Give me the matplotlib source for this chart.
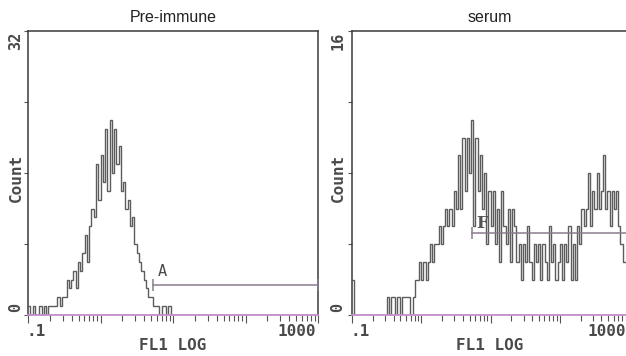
""" Flow cytometry FL1 histograms: pre-immune vs immune serum """

import matplotlib.pyplot as plt
import numpy as np

SAVE_PATH = 'out.png'
W, H = 626, 356

MONO = 'DejaVu Sans Mono'
TEXT_GREY = '#4a4a4a'
HIST_GREY = '#5c5c5c'
BASE_PINK = '#c48ccc'
GATE_COLOR = '#8c7c90'

X_RANGE = [0.1, 1000]
X_TICK_LABELS = ['.1', '1000']
X_LABEL = 'FL1 LOG'
Y_LABEL = 'Count'

PANEL_TITLES = ['Pre-immune', 'serum']
Y_MAX = [32, 16]
Y_TICKS = [[0, 8, 16, 24, 32], [0, 4, 8, 12, 16]]
Y_TICK_LABELS = [['0', '32'], ['0', '16']]

GATE_LABELS = ['A', 'F']
GATE_START = [5.3, 5.4]
GATE_LEVEL = [3.4, 4.6]

# counts per channel (128 log channels, 0.1 .. 1000)
pre_immune_counts = [
    1, 0, 1, 0, 0, 1, 0, 1, 0, 1, 1, 1, 1, 2, 1, 2,
    2, 4, 3, 4, 5, 3, 6, 5, 7, 9, 6, 10, 12, 11, 17, 13,
    18, 15, 21, 14, 22, 16, 21, 17, 19, 14, 15, 12, 13, 10, 11, 8,
    7, 6, 5, 4, 3, 2, 2, 1, 1, 1, 0, 1, 1, 0, 1, 0,
    0, 0, 0, 0, 0, 0, 0, 0, 0, 0, 0, 0, 0, 0, 0, 0,
    0, 0, 0, 0, 0, 0, 0, 0, 0, 0, 0, 0, 0, 0, 0, 0,
    0, 0, 0, 0, 0, 0, 0, 0, 0, 0, 0, 0, 0, 0, 0, 0,
    0, 0, 0, 0, 0, 0, 0, 0, 0, 0, 0, 0, 0, 0, 0, 0,
]

serum_counts = [
    2, 0, 0, 0, 0, 0, 0, 0, 0, 0, 0, 0, 0, 0, 0, 0,
    1, 0, 1, 1, 0, 1, 0, 1, 1, 1, 1, 0, 1, 2, 2, 3,
    2, 3, 2, 3, 4, 3, 4, 4, 5, 4, 5, 6, 5, 6, 5, 7,
    6, 9, 6, 10, 7, 10, 8, 11, 5, 10, 7, 9, 6, 8, 4, 7,
    5, 7, 4, 6, 3, 7, 5, 4, 6, 3, 6, 5, 3, 4, 2, 4,
    3, 5, 3, 2, 4, 3, 4, 2, 4, 3, 2, 5, 3, 4, 2, 3,
    4, 2, 4, 3, 5, 2, 4, 2, 5, 4, 6, 5, 6, 8, 5, 7,
    6, 8, 6, 7, 9, 6, 7, 5, 7, 6, 7, 5, 4, 3, 3, 3,
]

# panel placement in pixels: left, top, width, height
PANELS = [(28, 31, 290, 284), (352, 31, 277, 284)]


def fig_xy(x, y):
    return x / W, 1 - y / H


def make_panel(fig, box, counts, idx):
    left, top, width, height = box
    ax = fig.add_axes([left / W, 1 - (top + height) / H, width / W, height / H])

    edges = np.logspace(np.log10(X_RANGE[0]), np.log10(X_RANGE[1]), len(counts) + 1)
    ax.stairs(counts, edges, color=HIST_GREY, lw=1.0, baseline=None)

    ax.set_xscale('log')
    ax.set_xlim(X_RANGE)
    ax.set_ylim(0, Y_MAX[idx])
    ax.set_yticks(Y_TICKS[idx])
    ax.set_yticklabels([])
    ax.set_xticklabels([], minor=False)
    ax.set_xticklabels([], minor=True)

    ax.tick_params(axis='x', which='major', direction='out', length=6, width=0.8, color='#555555')
    ax.tick_params(axis='x', which='minor', direction='out', length=4, width=0.8, color='#555555')
    ax.tick_params(axis='y', direction='out', length=3, width=0.8, color='#555555')

    for side in ['left', 'top', 'right']:
        ax.spines[side].set_color('#3a3a3a')
        ax.spines[side].set_linewidth(1.1)
    ax.spines['bottom'].set_color(BASE_PINK)
    ax.spines['bottom'].set_linewidth(1.3)

    # marker gate
    x0, y0 = GATE_START[idx], GATE_LEVEL[idx]
    ax.plot([x0, X_RANGE[1]], [y0, y0], color=GATE_COLOR, lw=1.1, zorder=3)
    ax.plot([x0, X_RANGE[1]], [y0, y0], ls='none', marker='|', ms=8, mew=1.1,
            color=GATE_COLOR, zorder=3, clip_on=False)
    if idx == 0:
        ax.text(x0 * 1.17, y0 + 0.7, GATE_LABELS[idx], family=MONO, fontsize=11,
                color=TEXT_GREY, ha='left', va='bottom')
    else:
        ax.text(x0 * 1.17, y0 + 0.1, GATE_LABELS[idx], family='DejaVu Serif', fontsize=12,
                fontweight='bold', color='#555555', ha='left', va='bottom')
    return ax


fig = plt.figure(figsize=(W / 100, H / 100), dpi=100)

for idx, counts in enumerate([pre_immune_counts, serum_counts]):
    box = PANELS[idx]
    make_panel(fig, box, counts, idx)
    left, top, width, height = box
    mid = left + 145 if idx == 0 else left + 138

    # title
    fig.text(*fig_xy(mid, 18), PANEL_TITLES[idx],
             family='Liberation Sans', fontsize=11.5, color='#222222', ha='center', va='center')

    # x labels
    right_end = left + 288 if idx == 0 else 626
    fig.text(*fig_xy(left - 1, 332), X_TICK_LABELS[0], family=MONO, fontsize=11.5,
             fontweight='bold', color=TEXT_GREY, ha='left', va='center')
    fig.text(*fig_xy(right_end, 332), X_TICK_LABELS[1], family=MONO, fontsize=11.5,
             fontweight='bold', color=TEXT_GREY, ha='right', va='center')
    fig.text(*fig_xy(mid, 346), X_LABEL, family=MONO,
             fontsize=11.5, fontweight='bold', color=TEXT_GREY, ha='center', va='center')

    # y labels
    lx = left - 12 if idx == 0 else left - 14
    fig.text(*fig_xy(lx, 32), Y_TICK_LABELS[idx][1], family=MONO, fontsize=11,
             fontweight='bold', color=TEXT_GREY, rotation=90, ha='center', va='top')
    fig.text(*fig_xy(lx, 307), Y_TICK_LABELS[idx][0], family=MONO, fontsize=11,
             fontweight='bold', color=TEXT_GREY, rotation=90, ha='center', va='center')
    fig.text(*fig_xy(lx, 178), Y_LABEL, family=MONO, fontsize=11.5,
             fontweight='bold', color=TEXT_GREY, rotation=90, ha='center', va='center')

plt.savefig(SAVE_PATH, dpi=100)
